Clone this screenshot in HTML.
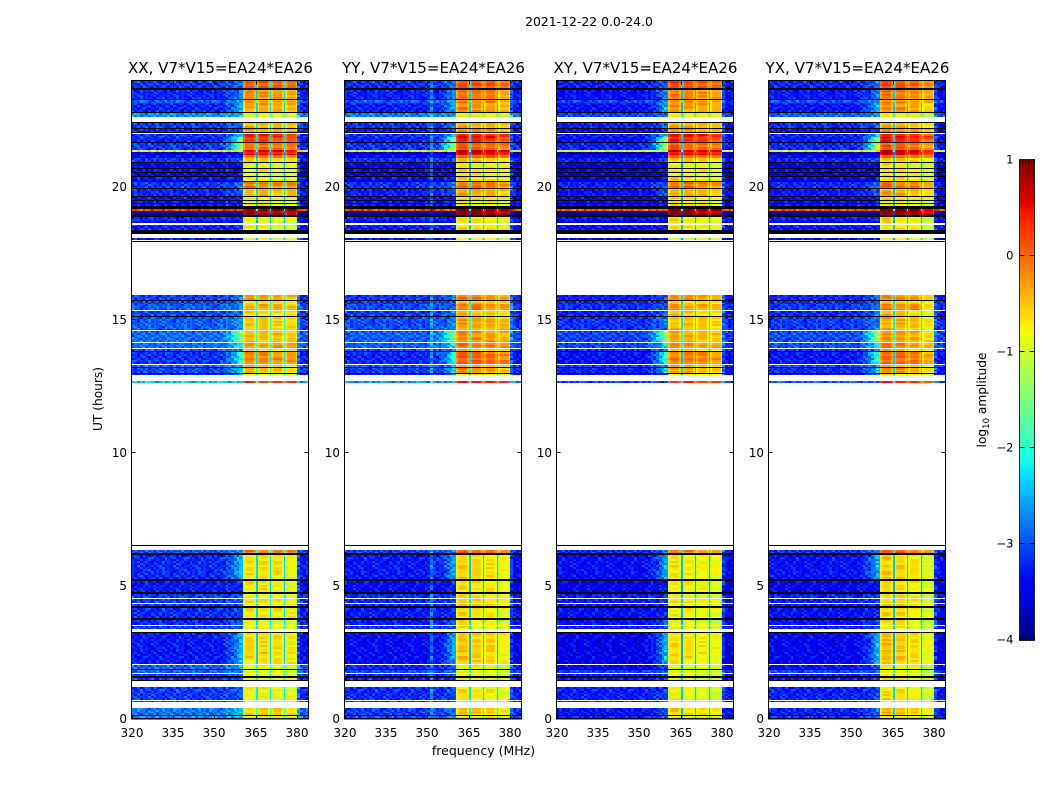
<!DOCTYPE html>
<html>
<head>
<meta charset="utf-8">
<title>2021-12-22 0.0-24.0</title>
<style>
html,body{margin:0;padding:0;background:#fff;width:1050px;height:800px;overflow:hidden}
svg{display:block}
text{font-family:"DejaVu Sans","Liberation Sans",sans-serif;fill:#000}
</style>
</head>
<body>
<svg id="chart" xmlns="http://www.w3.org/2000/svg" width="1050" height="800" viewBox="0 0 1050 800">
  <text x="589" y="26" font-size="12.4" text-anchor="middle">2021-12-22 0.0-24.0</text>
  <text x="483.5" y="755" font-size="12.5" text-anchor="middle">frequency (MHz)</text>
  <text x="0" y="0" transform="translate(102,399) rotate(-90)" font-size="12.2" text-anchor="middle">UT (hours)</text>
  <text x="0" y="0" transform="translate(986,400) rotate(-90)" font-size="12.2" text-anchor="middle">log<tspan font-size="8.5" dy="3">10</tspan><tspan dy="-3"> amplitude</tspan></text>
</svg>
<script>
// ---- chart data ----
var K = 'black', F = null; // K = zero-amplitude row, F = flagged (white) row
var panelTitles = ['XX, V7*V15=EA24*EA26', 'YY, V7*V15=EA24*EA26', 'XY, V7*V15=EA24*EA26', 'YX, V7*V15=EA24*EA26'];
var xTickLabels = [320, 335, 350, 365, 380];
var yTickLabels = [0, 5, 10, 15, 20];
var colorbarTicks = [-4, -3, -2, -1, 0, 1];

// lower edge (UT hours) of each row band, reading from the top of the plot
var rowHours = [
  23.72,23.68,23.32,23.29,23.19,22.84,22.80,22.65,22.46,22.42,
  22.23,22.20,22.08,22.05,22.01,21.91,21.88,21.71,21.67,21.42,
  21.33,21.22,21.09,20.97,20.90,20.73,20.69,20.58,20.54,20.43,
  20.39,20.32,20.24,20.20,19.98,19.94,19.68,19.64,19.52,19.49,
  19.41,19.36,19.28,19.24,19.17,19.11,18.96,18.88,18.72,18.64,
  18.58,18.55,18.40,18.25,18.08,18.02,17.98,17.93,15.95,15.76,
  15.73,15.63,15.60,15.39,15.36,15.16,15.12,14.63,14.60,14.17,
  14.14,13.96,13.92,13.84,13.81,13.34,13.32,13.24,13.20,13.02,
  12.98,12.94,12.72,12.64,6.53,6.49,6.36,6.26,6.17,5.27,
  5.19,4.78,4.70,4.55,4.53,4.36,4.34,4.25,4.18,3.80,
  3.72,3.54,3.51,3.39,3.27,3.24,2.07,2.03,1.88,1.84,
  1.73,1.70,1.62,1.54,1.47,1.43,1.20,0.71,0.68,0.65,
  0.41,0.15,0.10,0.02,0
];
// out-of-band log10 amplitude for each row band
var rowBackground = [
  -3.0,K,-3.1,K,-2.8,-3.1,K,-2.3,F,K,
  -3.0,K,-3.1,K,F,-3.0,F,-3.1,K,-3.0,
  -0.6,-3.5,-3.3,-3.0,K,-3.3,K,-3.2,K,-3.3,
  K,-3.2,-3.3,K,-3.0,K,-3.1,K,-3.2,K,
  -3.2,K,-3.1,K,K,0.35,-3.8,K,-3.1,-3.4,
  F,-3.0,-3.1,K,F,-3.2,F,K,F,-3.0,
  K,-3.0,F,-2.9,F,-3.0,K,-2.9,F,-2.8,
  F,-2.8,F,-2.9,K,-3.1,F,-2.8,K,-3.0,
  K,-3.1,F,-2.3,F,K,F,-2.9,K,-3.1,
  K,-3.2,K,-3.0,F,-3.0,F,-3.0,K,-3.1,
  K,-3.1,F,-3.0,F,K,-3.2,F,-2.6,K,
  -2.8,F,-3.0,K,-3.0,K,F,-3.0,F,-2.9,
  F,-2.5,K,-2.4,K
];
// in-band (360-380 MHz) log10 amplitude for each row band
var rowBandLevel = [
  0,0,-0.3,0,-0.3,-0.4,0,-0.95,0,0,
  -0.5,0,-0.4,0,0,0.3,0,0.2,0,-0.1,
  0.6,0.4,-0.1,-0.7,0,-0.9,0,-0.8,0,-0.9,
  0,-0.8,-0.8,0,-0.2,0,-0.5,0,-0.8,0,
  -0.9,0,-0.8,0,0,0.9,0.8,0,-0.8,-0.9,
  0,-0.9,-0.8,0,0,-1,0,0,0,-0.3,
  0,-0.6,0,-0.3,0,-0.6,0,-0.5,0,-0.4,
  0,-0.2,0,-0.6,0,-0.15,0,-0.5,0,-0.4,
  0,-0.8,0,0.25,0,0,0,-0.1,0,-0.7,
  0,-0.75,0,-0.8,0,-0.7,0,-0.7,0,-0.75,
  0,-0.85,0,-0.85,0,0,-0.65,0,-0.9,0,
  -0.9,0,-0.9,0,-0.9,0,0,-0.8,0,-0.9,
  0,-0.6,0,-0.8,0
];
// strength of the rise just below the 360 MHz band edge, per row band
var rowKnee = [
  0.3,0,0.4,0,0.3,0.5,0,0.2,0,0,
  0.3,0,0.2,0,0,0.5,0,0.9,0,0.9,
  0,0.2,0.2,0.2,0,0.1,0,0.1,0,0.1,
  0,0.1,0.1,0,0.3,0,0.3,0,0.1,0,
  0.1,0,0.1,0,0,0,0,0,0.1,0,
  0,0.1,0.1,0,0,0.1,0,0,0,0.3,
  0,0.2,0,0.2,0,0.3,0,0.3,0,0.8,
  0,0.5,0,0.3,0,0.7,0,0.3,0,0.5,
  0,0.3,0,0.1,0,0,0,0.3,0,0.5,
  0,0.15,0,0.15,0,0.15,0,0.15,0,0.15,
  0,0.3,0,0.2,0,0,0.55,0,0.3,0,
  0.2,0,0.2,0,0.2,0,0,0.2,0,0.2,
  0,0.3,0,0.3,0
];
// level offsets per panel for the three observing blocks [18-24 h, 13-16 h, 0-6.5 h]
var panelBgShift = [[-0.12,-0.05,-0.1],[-0.15,-0.12,-0.2],[-0.25,-0.25,-0.28],[-0.2,-0.2,-0.25]];
var panelBandShift = [[0,-0.1,-0.02],[0.1,0.1,0.02],[0.05,-0.05,-0.1],[0.05,0,0]];
// level offsets per panel for the four sub-bands
var panelSubbandShift = [[0.05,0.05,0,-0.05],[0.1,0.05,0,-0.15],[0.1,0.05,0,-0.1],[0.15,0.1,0,-0.25]];
// level offset and channel (MHz) of the narrow interference line
var panelRfiLine = [0.15,0.5,0.1,0.1];
var panelRfiChannel = [354,351,354,354];
// shape of the rise across 350-359 MHz
var kneeProfile = [0,0,0.05,0.1,0.2,0.3,0.5,0.7,0.95,1.2];
// shape across each 5 MHz sub-band
var subbandProfile = [-0.25,0,0.05,0.05,0.05,0.05,0,-0.25];
// grain read from the out-of-band noise (log10 amplitude tenths)
var grain = [
  [ 1,-2, 0, 3,-1,-3, 2, 0,-2, 1, 4,-1,-2],
  [-1, 2,-3, 0, 2, 1,-2, 3,-1,-3, 0, 2,-2],
  [ 3,-1, 1,-2, 0, 4,-3, 1, 2,-2,-1, 0, 3],
  [-2, 0, 2,-1,-3, 1, 0,-2, 3, 1,-1,-3, 2],
  [ 0, 3,-2, 1, 2,-1,-3, 2,-2, 0, 3,-1, 1],
  [ 2,-3, 1, 0,-2, 3, 1,-1, 0,-3, 2, 1,-2],
  [-3, 1, 3,-2, 1, 0,-1, 4,-3, 2,-2, 0, 1],
  [ 1, 0,-2, 2,-3, 2, 3,-2, 1,-1, 0, 3,-3],
  [-1,-3, 2, 1, 3,-2, 0, 1,-1, 2,-3, 1, 0],
  [ 2, 1,-1,-3, 0, 2,-2, 0, 3,-2, 1,-1, 3],
  [ 0,-2, 3,-1, 1,-3, 2,-1, 0, 3,-2, 2,-1]
];

// ---- layout ----
var panelLeft = [131.5, 344.5, 556.5, 768.5];
var panelWidth = 177;
var plotTop = 81, plotBottom = 719;
var freqMin = 320, freqMax = 384, hourMin = 0, hourMax = 24;
var bandStart = 360.4, bandGap = 0.6;
var cbLeft = 1019.5, cbWidth = 15, cbTop = 160, cbBottom = 640;
var NS = 'http://www.w3.org/2000/svg';
var svg = document.getElementById('chart');

function xScale(panel, f) { return panelLeft[panel] + (f - freqMin) / (freqMax - freqMin) * panelWidth; }
function yScale(h) { return plotBottom - (h - hourMin) / (hourMax - hourMin) * (plotBottom - plotTop); }
function cbScale(v) { return cbBottom - (v + 4) / 5 * (cbBottom - cbTop); }

function lerp(f, pts) {
  if (f <= pts[0][0]) return pts[0][1];
  for (var i = 1; i < pts.length; i++) {
    if (f <= pts[i][0]) {
      var a = pts[i - 1], b = pts[i];
      return a[1] + (b[1] - a[1]) * (f - a[0]) / (b[0] - a[0]);
    }
  }
  return pts[pts.length - 1][1];
}
function jet(v) {
  var f = Math.max(0, Math.min(1, (v + 4) / 5));
  var r = lerp(f, [[0.35,0],[0.66,1],[0.89,1],[1,0.5]]);
  var g = lerp(f, [[0.125,0],[0.375,1],[0.64,1],[0.91,0]]);
  var b = lerp(f, [[0,0.5],[0.11,1],[0.34,1],[0.65,0]]);
  return 'rgb(' + Math.round(r * 255) + ',' + Math.round(g * 255) + ',' + Math.round(b * 255) + ')';
}
function make(tag, attrs, parent) {
  var el = document.createElementNS(NS, tag);
  for (var k in attrs) el.setAttribute(k, attrs[k]);
  parent.appendChild(el);
  return el;
}
function period(h) { return h > 17 ? 0 : (h > 7 ? 1 : 2); }

function addCell(group, panel, f0, f1, yA, yB, fill) {
  var x0 = Math.round(xScale(panel, f0)), x1 = Math.round(xScale(panel, f1));
  if (x1 <= x0) return;
  var cell = make('rect', {x: x0, y: yA, width: x1 - x0, height: yB - yA, fill: fill, 'shape-rendering': 'crispEdges'}, group);
  
  
}

function drawPanel(p) {
  var g = make('g', {}, svg);
  
  

  var gridRow = 0;
  for (var i = 0; i < rowHours.length; i++) {
    var hiH = i === 0 ? hourMax : rowHours[i - 1];
    var loH = rowHours[i];
    var bg = rowBackground[i];
    if (bg === F) continue;
    var yA = Math.round(yScale(hiH)), yB = Math.round(yScale(loH));
    if (yB <= yA) yB = yA + 1;
    if (bg === K) {
      addCell(g, p, freqMin, freqMax, yA, yB, '#000');
      continue;
    }
    var per = period(loH);
    var shift = panelBgShift[p][per];
    var bgLevel = bg + ((bg > -2.7 && bg < -2) ? shift * 3 : shift);
    var bandLevel = rowBandLevel[i] + panelBandShift[p][per];
    var knee = Math.pow(rowKnee[i], 1.5) * (p >= 2 ? 1.15 : 1);
    var subRows = Math.max(1, Math.round((yB - yA) / 2));
    for (var s = 0; s < subRows; s++) {
      var y0 = yA + Math.round((yB - yA) * s / subRows);
      var y1 = yA + Math.round((yB - yA) * (s + 1) / subRows);
      var gr = grain[gridRow % grain.length];
      var off = (gridRow * 3 + p * 5) % 13;
      gridRow++;
      // below the band
      for (var c = freqMin; c < 360; c++) {
        var level = bgLevel + gr[(c + off) % 13] * 0.1;
        if (c >= 350) level += knee * kneeProfile[c - 350] * 1.7;
        if (c === panelRfiChannel[p]) level += panelRfiLine[p];
        addCell(g, p, c, c + 1, y0, y1, jet(level));
      }
      addCell(g, p, 360, bandStart, y0, y1, jet(bgLevel + knee * 2.1));
      // sub-bands and their gaps
      for (var sb = 0; sb < 4; sb++) {
        var start = sb === 0 ? bandStart : 360 + sb * 5 + bandGap;
        var end = 360 + (sb + 1) * 5;
        var width = (end - start) / subbandProfile.length;
        var rowTone = gr[(sb * 3 + off) % 13] * 0.05;
        for (var q = 0; q < subbandProfile.length; q++) {
          var lv = bandLevel + panelSubbandShift[p][sb] + subbandProfile[q] + rowTone;
          addCell(g, p, start + q * width, start + (q + 1) * width, y0, y1, jet(lv));
        }
        if (sb < 3) addCell(g, p, end, end + bandGap, y0, y1, jet(Math.min(bgLevel + 0.9, -1.9)));
      }
      // above the band
      for (var c2 = 380; c2 < freqMax; c2++) {
        var lv2 = bgLevel - 0.1 + gr[(c2 + off) % 13] * 0.1 + (c2 === 380 ? 0.35 : 0);
        addCell(g, p, c2, c2 + 1, y0, y1, jet(lv2));
      }
    }
  }

  // axes frame
  var frame = make('rect', {x: panelLeft[p], y: plotTop - 0.5, width: panelWidth, height: plotBottom - plotTop + 0.5, fill: 'none', stroke: '#000', 'stroke-width': 1}, g);
  
  

  var title = make('text', {x: panelLeft[p] + panelWidth / 2 + 0.5, y: 73, 'font-size': 15.05, 'text-anchor': 'middle'}, g);
  title.textContent = panelTitles[p];
  
  

  xTickLabels.forEach(function (t) {
    var x = Math.round(xScale(p, t)) + 0.5;
    make('path', {d: 'M' + x + ' ' + plotBottom + 'v-4M' + x + ' ' + (plotTop - 0.5) + 'v4', stroke: '#000', 'stroke-width': 1, fill: 'none'}, g);
    var lab = make('text', {x: x - 0.5, y: 737, 'font-size': 12, 'text-anchor': 'middle'}, g);
    lab.textContent = t;
    
    
  });
  yTickLabels.forEach(function (t) {
    var y = Math.round(yScale(t)) - 0.5;
    make('path', {d: 'M' + panelLeft[p] + ' ' + y + 'h4M' + (panelLeft[p] + panelWidth) + ' ' + y + 'h-4', stroke: '#000', 'stroke-width': 1, fill: 'none'}, g);
    var lab = make('text', {x: panelLeft[p] - 4.5, y: y + 4.5, 'font-size': 12, 'text-anchor': 'end'}, g);
    lab.textContent = t;
    
    
  });
}

function drawColorbar() {
  var g = make('g', {}, svg);
  
  
  for (var v = -4; v < 1; v += 0.02) {
    var yTop = Math.floor(cbScale(v + 0.02));
    var yBot = Math.ceil(cbScale(v));
    var step = make('rect', {x: cbLeft, y: yTop, width: cbWidth, height: yBot - yTop, fill: jet(v + 0.01), 'shape-rendering': 'crispEdges'}, g);
    
    
  }
  var frame = make('rect', {x: cbLeft, y: cbTop - 0.5, width: cbWidth, height: cbBottom - cbTop + 1, fill: 'none', stroke: '#222', 'stroke-width': 1}, g);
  
  
  colorbarTicks.forEach(function (t) {
    var y = Math.round(cbScale(t)) - 0.5;
    if (t > -4 && t < 1) {
      make('path', {d: 'M' + cbLeft + ' ' + y + 'h5M' + (cbLeft + cbWidth) + ' ' + y + 'h-5', stroke: '#000', 'stroke-width': 1, fill: 'none'}, g);
    }
    var lab = make('text', {x: cbLeft - 6, y: y + 4, 'font-size': 11.5, 'text-anchor': 'end'}, g);
    lab.textContent = String(t).replace('-', '\u2212');
    
    
  });
  for (var i = 0; i < 6; i++) {
    var x = cbLeft + i * cbWidth / 5;
    make('path', {d: 'M' + x + ' ' + cbTop + 'v4M' + x + ' ' + cbBottom + 'v-4', stroke: '#000', 'stroke-width': 0.7, fill: 'none'}, g);
  }
  var dots = make('text', {x: cbLeft - 2, y: 647, 'font-size': 4, 'letter-spacing': 1.6, fill: '#555'}, g);
  dots.textContent = '......';
  
  
}

for (var p = 0; p < panelTitles.length; p++) drawPanel(p);
drawColorbar();
</script>
</body>
</html>
